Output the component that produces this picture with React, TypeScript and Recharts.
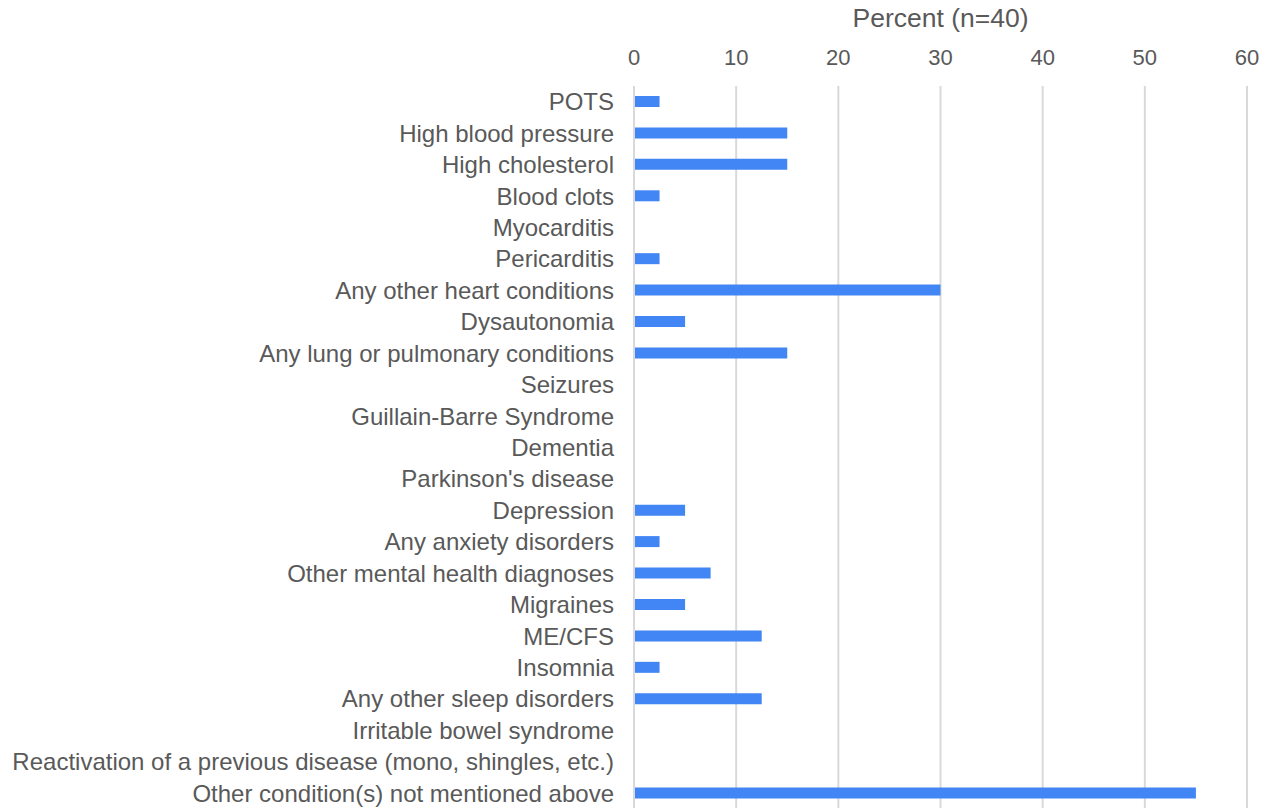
import React from 'react';
import { BarChart, Bar, XAxis, YAxis, CartesianGrid } from 'recharts';

const categories = [
  'POTS',
  'High blood pressure',
  'High cholesterol',
  'Blood clots',
  'Myocarditis',
  'Pericarditis',
  'Any other heart conditions',
  'Dysautonomia',
  'Any lung or pulmonary conditions',
  'Seizures',
  'Guillain-Barre Syndrome',
  'Dementia',
  "Parkinson's disease",
  'Depression',
  'Any anxiety disorders',
  'Other mental health diagnoses',
  'Migraines',
  'ME/CFS',
  'Insomnia',
  'Any other sleep disorders',
  'Irritable bowel syndrome',
  'Reactivation of a previous disease (mono, shingles, etc.)',
  'Other condition(s) not mentioned above',
];

const percentValues = [2.5, 15, 15, 2.5, 0, 2.5, 30, 5, 15, 0, 0, 0, 0, 5, 2.5, 7.5, 5, 12.5, 2.5, 12.5, 0, 0, 55];

const xTicks = [0, 10, 20, 30, 40, 50, 60];

const data = categories.map((name, i) => ({ name, value: percentValues[i] }));

const FONT = '"Liberation Sans", Arial, sans-serif';
const TEXT = '#595959';

export default function App() {
  return (
    <div style={{ position: 'absolute', left: 0, top: 0, width: 1265, height: 808, overflow: 'hidden', background: '#fff' }}>
      <BarChart
        width={1265}
        height={817}
        data={data}
        layout="vertical"
        margin={{ top: 0, right: 18, bottom: 8, left: 0 }}
        barCategoryGap={0}
      >
        <CartesianGrid horizontal={false} stroke="#d9d9d9" strokeWidth={2} />
        <XAxis
          type="number"
          orientation="top"
          domain={[0, 60]}
          ticks={xTicks}
          height={86}
          axisLine={false}
          tickLine={false}
          tickMargin={15}
          tick={{ fill: TEXT, fontSize: 22, fontFamily: FONT }}
          label={{ value: 'Percent (n=40)', position: 'insideTop', offset: 8, fill: TEXT, fontSize: 26.5, fontFamily: FONT }}
        />
        <YAxis
          type="category"
          dataKey="name"
          width={634}
          axisLine={{ stroke: '#d9d9d9', strokeWidth: 2 }}
          tickLine={false}
          tickMargin={14}
          interval={0}
          tick={{ fill: TEXT, fontSize: 24, fontFamily: FONT }}
        />
        <Bar dataKey="value" fill="#4285F4" barSize={11} isAnimationActive={false} />
      </BarChart>
    </div>
  );
}
